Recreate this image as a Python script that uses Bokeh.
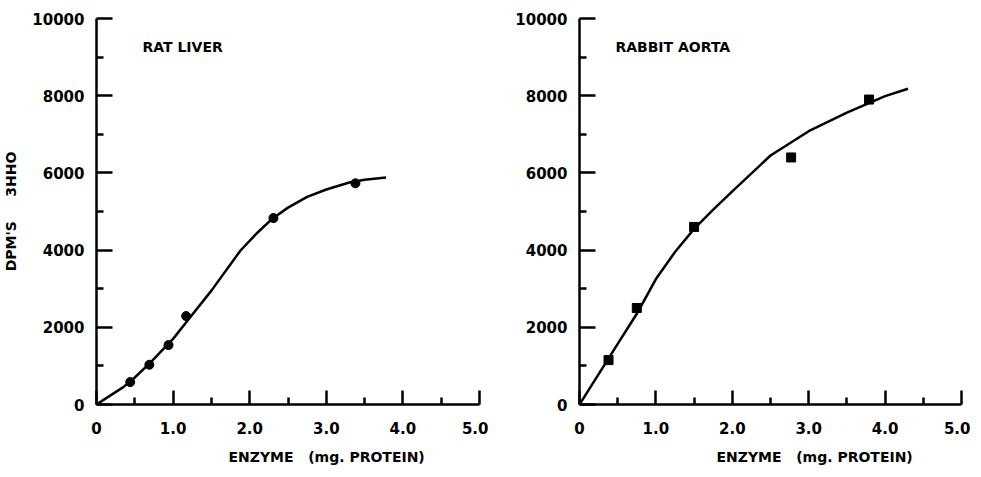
from bokeh.plotting import figure
from bokeh.layouts import row
from bokeh.models import Range1d, FixedTicker, Label, Title
from bokeh.embed import file_html
from bokeh.resources import INLINE

# ---- data ----
x_tick_values = [0, 1, 2, 3, 4, 5]
x_tick_labels = ["0", "1.0", "2.0", "3.0", "4.0", "5.0"]
x_minor_values = [0.5, 1.5, 2.5, 3.5, 4.5]
y_tick_values = [0, 2000, 4000, 6000, 8000, 10000]
y_tick_labels = ["0", "2000", "4000", "6000", "8000", "10000"]
y_minor_values = [1000, 3000, 5000, 7000, 9000]

liver_x = [0.44, 0.69, 0.94, 1.17, 2.31, 3.38]
liver_y = [580, 1030, 1540, 2290, 4830, 5730]
liver_curve_x = [0, 0.35, 0.5, 0.7, 1.0, 1.2, 1.5, 1.88, 2.1, 2.3, 2.5, 2.75, 3.0, 3.3, 3.5, 3.78]
liver_curve_y = [0, 450, 700, 1080, 1700, 2200, 2950, 3990, 4450, 4820, 5100, 5380, 5570, 5750, 5820, 5880]

aorta_x = [0.38, 0.75, 1.50, 2.77, 3.79]
aorta_y = [1150, 2500, 4600, 6400, 7900]
aorta_curve_x = [0, 0.5, 0.75, 1.0, 1.25, 1.5, 1.75, 2.0, 2.5, 3.0, 3.5, 4.0, 4.3]
aorta_curve_y = [0, 1570, 2350, 3250, 3950, 4550, 5050, 5520, 6450, 7080, 7560, 7990, 8180]

FONT = "DejaVu Sans"
NB = "\u00a0"


def make_panel(width, border_left, ylabel, name, name_x, px, py, cx, cy, marker,
               title_offset, title_standoff):
    p = figure(width=width, height=475, output_backend="svg", toolbar_location=None,
               x_range=Range1d(0, 5), y_range=Range1d(0, 10000),
               min_border_left=border_left, min_border_right=9,
               min_border_top=18, min_border_bottom=30)
    p.grid.visible = False
    p.outline_line_color = None
    p.background_fill_color = "white"
    p.border_fill_color = "white"

    xa = p.xaxis[0]
    xa.ticker = FixedTicker(ticks=x_tick_values, minor_ticks=x_minor_values)
    xa.major_label_overrides = {v: l for v, l in zip(x_tick_values, x_tick_labels)}
    ya = p.yaxis[0]
    ya.ticker = FixedTicker(ticks=y_tick_values, minor_ticks=y_minor_values)
    ya.major_label_overrides = {v: l for v, l in zip(y_tick_values, y_tick_labels)}

    for ax, tin in ((xa, 14), (ya, 16)):
        ax.axis_line_width = 2.5
        ax.axis_line_color = "black"
        ax.major_tick_in = tin
        ax.major_tick_out = 0
        ax.minor_tick_in = 7
        ax.minor_tick_out = 0
        ax.major_tick_line_width = 2.5
        ax.minor_tick_line_width = 2.5
        ax.major_tick_line_color = "black"
        ax.minor_tick_line_color = "black"
        ax.major_label_text_font = FONT
        ax.major_label_text_font_style = "bold"
        ax.major_label_text_font_size = "15px"
        ax.major_label_text_color = "black"
    xa.major_label_standoff = 17
    ya.major_label_standoff = 12
    if ylabel:
        ya.axis_label = ylabel
        ya.axis_label_text_font = FONT
        ya.axis_label_text_font_style = "bold"
        ya.axis_label_text_font_size = "14px"
        ya.axis_label_text_color = "black"
        ya.axis_label_standoff = 10

    p.line(cx, cy, line_color="black", line_width=2.5)
    p.scatter(px, py, marker=marker, size=9, fill_color="black", line_color="black")

    p.add_layout(Label(x=name_x, y=9270, text=name, text_font=FONT, text_font_style="bold",
                       text_font_size="14px", text_baseline="middle", text_align="left",
                       text_color="black"))
    p.add_layout(Title(text="ENZYME" + NB * 3 + "(mg. PROTEIN)", align="left",
                       offset=title_offset, standoff=title_standoff,
                       text_font=FONT, text_font_style="bold", text_font_size="14px",
                       text_color="black"), "below")
    return p


p1 = make_panel(488, 95, "DPM'S" + NB * 5 + "3HHO", "RAT LIVER", 0.60, liver_x, liver_y,
                liver_curve_x, liver_curve_y, "circle", 132, 21)
p2 = make_panel(482, 91, None, "RABBIT AORTA", 0.47, aorta_x, aorta_y,
                aorta_curve_x, aorta_curve_y, "square", 137, 21)

layout = row(p1, p2)
open("out.html", "w").write(file_html(layout, INLINE))
